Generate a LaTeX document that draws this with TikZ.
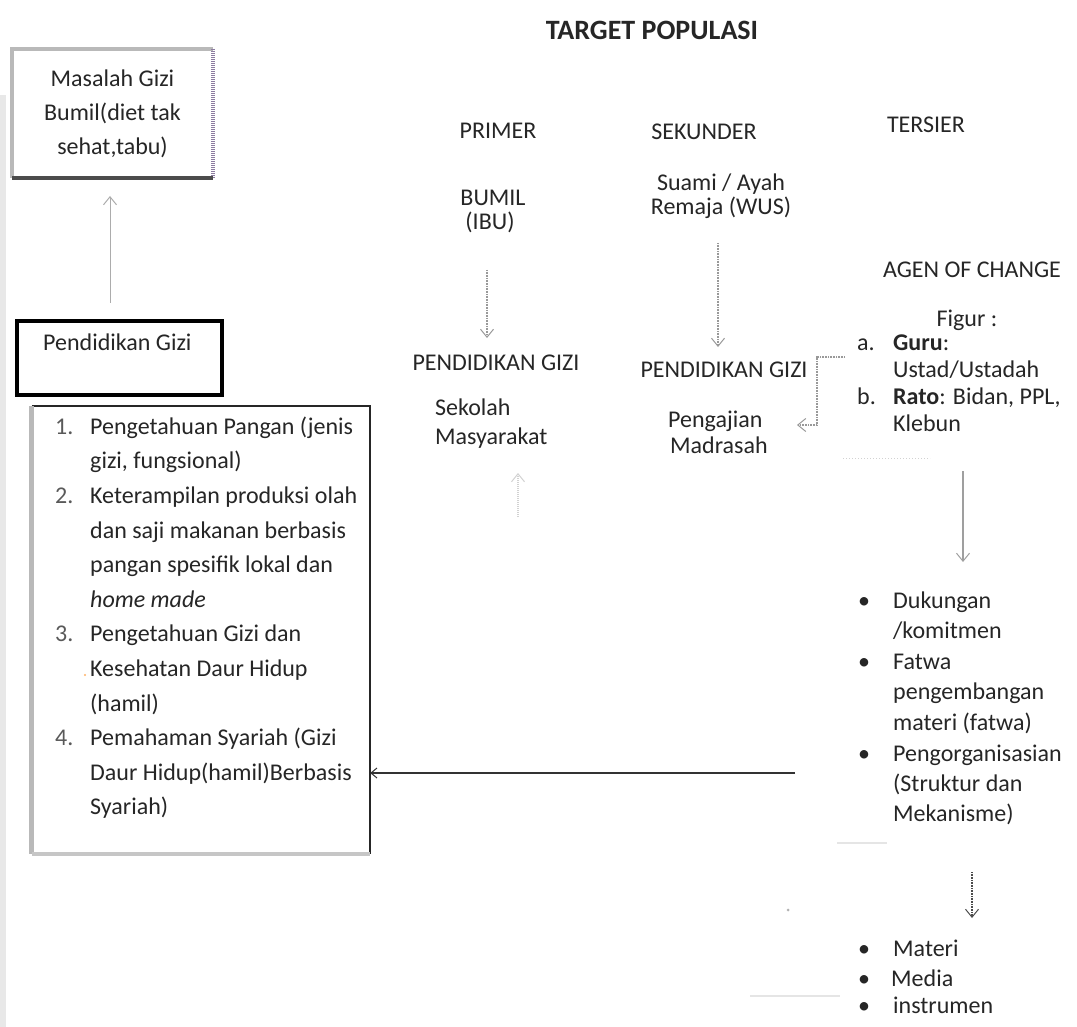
\documentclass[tikz,border=0pt]{standalone}
\usepackage{fontspec}
\setmainfont{Carlito}
\usetikzlibrary{arrows.meta}
\newcommand\bodyfs{\fontsize{24}{34}\selectfont}
\definecolor{inkc}{HTML}{262626}
\definecolor{purpc}{HTML}{8C7CA0}
\begin{document}
\begin{tikzpicture}[x=1pt,y=-1pt,
  txt/.style={font=\bodyfs, inner sep=0pt, text=inkc},
  lw/.style={txt, anchor=mid west},
  ctr/.style={txt, anchor=mid},
  opentip/.style={-{Straight Barb[length=8pt,width=13pt,line width=1pt]}},
  garrow/.style={draw=gray!75, line width=1.2pt, opentip},
  dotarrow/.style={draw=gray!80, line width=1.3pt, dash pattern=on 1pt off 0.6pt, opentip},
  faintarrow/.style={draw=gray!35, line width=1.3pt, dash pattern=on 1pt off 1pt, opentip},
  darkarrow/.style={draw=black!80, line width=2pt, -{Straight Barb[length=6pt,width=10pt,line width=1pt]}}
]
\useasboundingbox (0,0) rectangle (1077,1027);
\fill[white] (0,0) rectangle (1077,1027);
% scan strip at left edge
\fill[gray!18] (0,95) rectangle (6,1027);

% title
\node[font=\bfseries\fontsize{28}{32}\selectfont, inner sep=0pt, text=inkc] (title) at (652,30) {TARGET POPULASI};

% box 1
\node[txt, align=center, minimum width=201pt, minimum height=129pt] (box1) at (112.5,113.5)
  {Masalah Gizi\\Bumil(diet tak\\sehat,tabu)};
\draw[gray!55, line width=4pt] (box1.south west) -- (box1.north west) -- (box1.north east);
\draw[purpc, line width=4pt, dash pattern=on 1.2pt off 0.8pt] (box1.north east) -- (box1.south east);
\draw[gray!60!black, line width=3.5pt] (box1.south west) -- (box1.south east);

% up arrow
\coordinate (upS) at (110,303);
\coordinate (upE) at (110,196);
\draw[garrow, draw=gray!65, line width=1pt] (upS) -- (upE);

% box 2
\node[draw=black, line width=4.5pt, minimum width=205pt, minimum height=74pt, inner sep=0pt] (box2) at (119.5,358) {};
\node[lw] (box2t) at (43,348) {Pendidikan Gizi};

% box 3
\node[minimum width=338pt, minimum height=448pt, inner sep=0pt] (box3) at (201,630) {};
\draw[black!85, line width=2pt] (box3.north west) -- (box3.north east) -- (box3.south east);
\draw[gray!55, line width=5pt] (box3.north west) -- (box3.south west);
\draw[gray!45, line width=4pt] (box3.south west) -- (box3.south east);

\foreach \ltext [count=\i from 0] in {
 {Pengetahuan Pangan (jenis},
 {gizi, fungsional)},
 {Keterampilan produksi olah},
 {dan saji makanan berbasis},
 {pangan spesifik lokal dan},
 {\textit{home made}},
 {Pengetahuan Gizi dan},
 {Kesehatan Daur Hidup},
 {(hamil)},
 {Pemahaman Syariah (Gizi},
 {Daur Hidup(hamil)Berbasis},
 {Syariah)}
}{
 \node[lw] (li\i) at (90,{432+34.6*\i}) {\ltext};
}
\node[lw, text=gray!70!black] (n1) at (55,432) {1.};
\node[lw, text=gray!70!black] (n2) at (55,501.2) {2.};
\node[lw, text=gray!70!black] (n3) at (55,639.6) {3.};
\node[lw, text=gray!70!black] (n4) at (55,743.4) {4.};

% column headers
\node[ctr] (primer) at (498,136) {PRIMER};
\node[ctr] (sekunder) at (704,137) {SEKUNDER};
\node[ctr] (tersier) at (926,130) {TERSIER};

% primer column
\node[ctr] (bumil) at (493,203) {BUMIL};
\node[ctr] (ibu) at (490,227) {(IBU)};
\coordinate (pA) at (487,270);
\coordinate (pB) at (487,338);
\draw[dotarrow] (pA) -- (pB);
\node[ctr] (pg1) at (496,368) {PENDIDIKAN GIZI};
\node[lw] (sekolah) at (435,413) {Sekolah};
\node[lw] (masy) at (435,442) {Masyarakat};
\coordinate (fA) at (518,517);
\coordinate (fB) at (518,473);
\draw[faintarrow] (fA) -- (fB);

% sekunder column
\node[ctr] (suami) at (721,188) {Suami / Ayah};
\node[ctr] (remaja) at (721,212) {Remaja (WUS)};
\coordinate (sA) at (718,243);
\coordinate (sB) at (718,347);
\draw[dotarrow] (sA) -- (sB);
\node[ctr] (pg2) at (724,375) {PENDIDIKAN GIZI};
\node[lw] (pengajian) at (668,425) {Pengajian};
\node[lw] (madrasah) at (670,451) {Madrasah};

% tersier column
\node[ctr] (agen) at (972,275) {AGEN OF CHANGE};
\node[ctr] (figur) at (967,324) {Figur :};
\node[lw] (la) at (857,348) {a.};
\node[lw] (guru) at (893,348) {\textbf{Guru}:};
\node[lw] (ustad) at (893,375) {Ustad/Ustadah};
\node[lw] (lb) at (857,402) {b.};
\node[lw] (rato) at (893,402) {\textbf{Rato}: Bidan, PPL,};
\node[lw] (klebun) at (893,429) {Klebun};
\coordinate (bA) at (845,357);
\coordinate (bB) at (817,357);
\coordinate (bC) at (817,425);
\coordinate (bD) at (797,425);
\draw[dotarrow, line width=1.2pt] (bA) -- (bB) -- (bC) -- (bD);
\coordinate (kA) at (843,458);
\coordinate (kB) at (930,458);
\draw[gray!35, line width=1pt, dotted] (kA) -- (kB);

\coordinate (tA) at (963,471);
\coordinate (tB) at (963,562);
\draw[garrow, line width=1.6pt] (tA) -- (tB);

\foreach \btext/\by [count=\j] in {
 {Dukungan}/606, {/komitmen}/636, {Fatwa}/667, {pengembangan}/697,
 {materi (fatwa)}/728, {Pengorganisasian}/759, {(Struktur dan}/789, {Mekanisme)}/819
}{
 \node[lw] (r\j) at (893,\by) {\btext};
}
\node[ctr] (b1) at (864,606) {•};
\node[ctr] (b2) at (864,667) {•};
\node[ctr] (b3) at (864,759) {•};

\coordinate (hS) at (795,773);
\draw[darkarrow] (hS) -- (box3.east |- hS);

\coordinate (mA) at (837,843);
\coordinate (mB) at (887,843);
\draw[gray!20, line width=1.5pt] (mA) -- (mB);

\coordinate (sa1) at (972,872);
\coordinate (sa2) at (972,918);
\draw[dotarrow, draw=gray!60!black, line width=1.2pt] (sa1) -- (sa2);

\node[lw] (mat) at (893,954) {Materi};
\node[lw] (med) at (891,984) {Media};
\node[lw] (ins) at (893,1011) {instrumen};
\node[ctr] (b4) at (864,954) {•};
\node[ctr] (b5) at (864,984) {•};
\node[ctr] (b6) at (864,1011) {•};
\coordinate (qA) at (750,996);
\coordinate (qB) at (840,996);
\draw[gray!20, line width=1.5pt] (qA) -- (qB);

% scan specks
\fill[gray!60] (788,910) circle (1.5pt);
\fill[orange!60] (85,675) circle (1.2pt);
\end{tikzpicture}
\end{document}
